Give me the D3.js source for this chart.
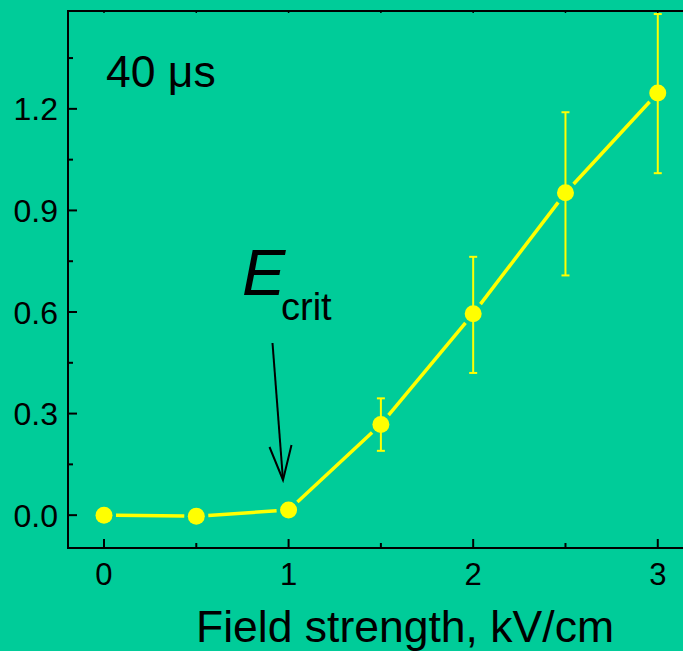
<!DOCTYPE html>
<html>
<head>
<meta charset="utf-8">
<script src="https://cdn.jsdelivr.net/npm/d3@7"></script>
<style>
  body { margin: 0; background: #00cc99; }
  svg { display: block; font-family: "Liberation Sans", Arial, sans-serif; }
</style>
</head>
<body>
<div id="chart"></div>
<script>
const fieldKV = [0, 0.5, 1, 1.5, 2, 2.5, 3];
const signal = [0.0, -0.003, 0.015, 0.268, 0.595, 0.952, 1.247];
const errLow = [null, null, null, 0.19, 0.42, 0.708, 1.01];
const errHigh = [null, null, null, 0.345, 0.763, 1.19, 1.48];
const xTicks = [0, 1, 2, 3];
const yTicks = [0.0, 0.3, 0.6, 0.9, 1.2];

const W = 683, H = 651;
const margin = {top: 11, right: -8, bottom: 103, left: 68},
      width = W - margin.left - margin.right,
      height = H - margin.top - margin.bottom;

const svg = d3.select("#chart")
  .append("svg")
  .attr("width", W)
  .attr("height", H)
  .append("g")
  .attr("transform", "translate(" + margin.left + "," + margin.top + ")");

const x = d3.scaleLinear().domain([-0.195, 3.18]).range([0, width]);
const y = d3.scaleLinear().domain([-0.097, 1.489]).range([height, 0]);

// frame: left, bottom, top
svg.append("path")
  .attr("d", "M" + width + ",0H0V" + height + "H" + width)
  .style("fill", "none")
  .style("stroke", "#000")
  .style("stroke-width", 2);

// bottom axis ticks (inward)
svg.selectAll(".xmajor")
  .data(xTicks)
  .enter().append("line")
  .attr("x1", d => x(d)).attr("x2", d => x(d))
  .attr("y1", height).attr("y2", height - 9)
  .style("stroke", "#000").style("stroke-width", 2);
svg.selectAll(".xminor")
  .data(d3.range(0.5, 3.01, 1))
  .enter().append("line")
  .attr("x1", d => x(d)).attr("x2", d => x(d))
  .attr("y1", height).attr("y2", height - 5)
  .style("stroke", "#000").style("stroke-width", 2);
svg.selectAll(".xtop")
  .data(d3.range(0, 3.01, 0.5))
  .enter().append("line")
  .attr("x1", d => x(d)).attr("x2", d => x(d))
  .attr("y1", 0).attr("y2", 2)
  .style("stroke", "#000").style("stroke-width", 1.5);
svg.selectAll(".xlabel")
  .data(xTicks)
  .enter().append("text")
  .attr("x", d => x(d))
  .attr("y", 585 - margin.top)
  .attr("text-anchor", "middle")
  .style("font-size", "31px")
  .text(d => d);

// left axis ticks (inward)
svg.selectAll(".ymajor")
  .data(yTicks)
  .enter().append("line")
  .attr("x1", 0).attr("x2", 9)
  .attr("y1", d => y(d)).attr("y2", d => y(d))
  .style("stroke", "#000").style("stroke-width", 2);
svg.selectAll(".yminor")
  .data(d3.range(0.15, 1.4, 0.3))
  .enter().append("line")
  .attr("x1", 0).attr("x2", 5)
  .attr("y1", d => y(d)).attr("y2", d => y(d))
  .style("stroke", "#000").style("stroke-width", 2);
svg.selectAll(".ylabel")
  .data(yTicks)
  .enter().append("text")
  .attr("x", -10)
  .attr("y", d => y(d) + 11.5)
  .attr("text-anchor", "end")
  .style("font-size", "32px")
  .text(d => d.toFixed(1));

// axis title
svg.append("text")
  .attr("x", 405 - margin.left)
  .attr("y", 642 - margin.top)
  .attr("text-anchor", "middle")
  .style("font-size", "44.5px")
  .text("Field strength, kV/cm");

// error bars
const pts = fieldKV.map((k, i) => ({k: k, v: signal[i], lo: errLow[i], hi: errHigh[i]}));
const eb = svg.selectAll(".err")
  .data(pts.filter(d => d.lo != null))
  .enter().append("g")
  .style("stroke", "#ffff00").style("stroke-width", 2);
eb.append("line")
  .attr("x1", d => x(d.k)).attr("x2", d => x(d.k))
  .attr("y1", d => y(d.lo)).attr("y2", d => y(d.hi));
eb.append("line")
  .attr("x1", d => x(d.k) - 4).attr("x2", d => x(d.k) + 4)
  .attr("y1", d => y(d.lo)).attr("y2", d => y(d.lo));
eb.append("line")
  .attr("x1", d => x(d.k) - 4).attr("x2", d => x(d.k) + 4)
  .attr("y1", d => y(d.hi)).attr("y2", d => y(d.hi));

// line segments with gaps at markers
const gap = 12;
const segs = d3.pairs(pts).map(([a, b]) => {
  const x0 = x(a.k), y0 = y(a.v), x1 = x(b.k), y1 = y(b.v);
  const L = Math.hypot(x1 - x0, y1 - y0), ux = (x1 - x0) / L, uy = (y1 - y0) / L;
  return [x0 + ux * gap, y0 + uy * gap, x1 - ux * gap, y1 - uy * gap];
});
svg.selectAll(".seg")
  .data(segs)
  .enter().append("line")
  .attr("x1", d => d[0]).attr("y1", d => d[1])
  .attr("x2", d => d[2]).attr("y2", d => d[3])
  .style("stroke", "#ffff00").style("stroke-width", 3.5);

svg.selectAll(".dot")
  .data(pts)
  .enter().append("circle")
  .attr("cx", d => x(d.k))
  .attr("cy", d => y(d.v))
  .attr("r", 8.5)
  .style("fill", "#ffff00");

// annotations
svg.append("text")
  .attr("x", 106 - margin.left)
  .attr("y", 87 - margin.top)
  .style("font-size", "44.5px")
  .text("40 μs");

const ec = svg.append("text")
  .attr("x", 242 - margin.left)
  .attr("y", 295 - margin.top);
ec.append("tspan")
  .style("font-size", "65px")
  .style("font-style", "italic")
  .text("E");
ec.append("tspan")
  .attr("x", 281 - margin.left)
  .attr("y", 320 - margin.top)
  .style("font-size", "38px")
  .text("crit");

// arrow
const ax0 = 272.5 - margin.left, ay0 = 343 - margin.top,
      ax1 = 283 - margin.left, ay1 = 480 - margin.top;
svg.append("line")
  .attr("x1", ax0).attr("y1", ay0).attr("x2", ax1).attr("y2", ay1)
  .style("stroke", "#000").style("stroke-width", 2);
svg.append("path")
  .attr("d", "M" + (ax1 - 13.5) + "," + (ay1 - 33) + "L" + ax1 + "," + ay1 + "L" + (ax1 + 8.5) + "," + (ay1 - 35))
  .style("fill", "none")
  .style("stroke", "#000")
  .style("stroke-width", 2);
</script>
</body>
</html>
